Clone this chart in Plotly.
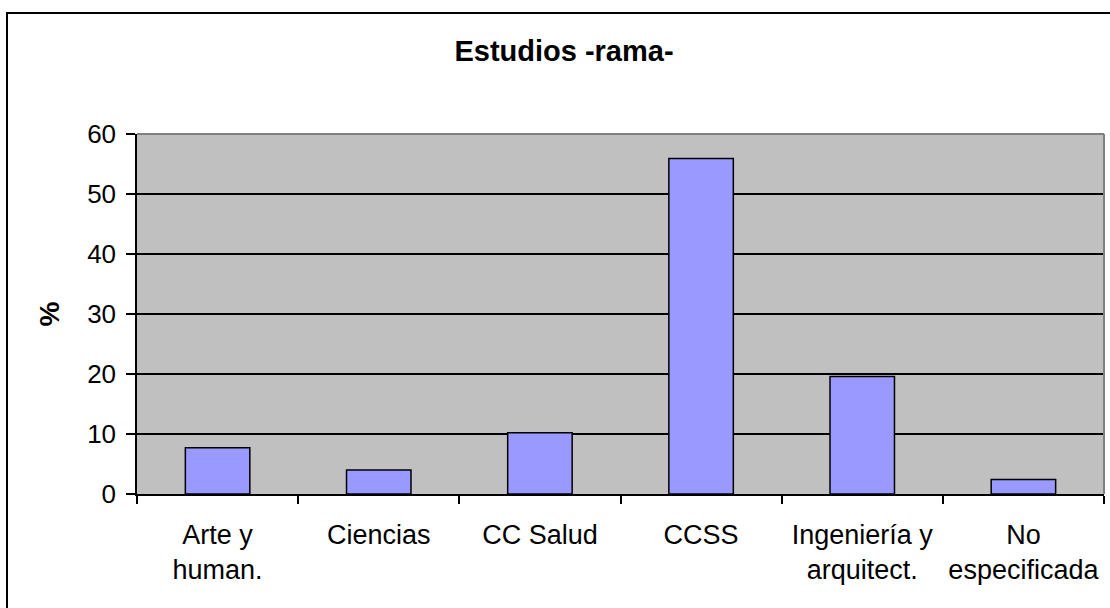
import plotly.graph_objects as go

categories = ["Arte y<br>human.", "Ciencias", "CC Salud", "CCSS", "Ingeniería y<br>arquitect.", "No<br>especificada"]
values = [7.7, 4.0, 10.2, 55.9, 19.6, 2.4]
y_ticks = [0, 10, 20, 30, 40, 50, 60]
title_text = "Estudios -rama-"
y_title = "%"

FONT = "Arial, 'Liberation Sans', sans-serif"

fig = go.Figure(
    go.Bar(
        x=categories,
        y=values,
        marker=dict(color="#9999FF", line=dict(color="black", width=1.5)),
        hoverinfo="x+y",
    )
)

W, H = 1110, 608
L, R, T, B = 137, 6, 134, 114
pw, ph = W - L - R, H - T - B

def px_x(p):
    return (p - L) / pw

def px_y(p):
    return 1 - (p - T) / ph

fig.update_layout(
    width=W,
    height=H,
    margin=dict(l=L, r=R, t=T, b=B, pad=0),
    paper_bgcolor="white",
    plot_bgcolor="#C0C0C0",
    bargap=0.6,
    showlegend=False,
    font=dict(family=FONT, size=27, color="black"),
    title=dict(
        text="<b>" + title_text + "</b>",
        font=dict(family=FONT, size=29, color="black"),
        x=564 / W,
        xref="container",
        xanchor="center",
        y=1 - 51 / H,
        yref="container",
        yanchor="middle",
    ),
    xaxis=dict(
        showline=True,
        linecolor="black",
        linewidth=1.5,
        ticks="outside",
        tickson="boundaries",
        ticklen=8,
        tickwidth=1.5,
        tickcolor="black",
        showgrid=False,
        tickfont=dict(family=FONT, size=27, color="black"),
        ticklabelstandoff=16,
        fixedrange=True,
    ),
    yaxis=dict(
        range=[0, 60],
        tickvals=y_ticks,
        showline=True,
        linecolor="black",
        linewidth=1.5,
        ticks="outside",
        ticklen=9,
        tickwidth=1.5,
        tickcolor="black",
        showgrid=True,
        gridcolor="black",
        gridwidth=1.5,
        zeroline=False,
        tickfont=dict(family=FONT, size=26, color="black"),
        ticklabelstandoff=5,
        title=dict(text="<b>" + y_title + "</b>", font=dict(family=FONT, size=28, color="black"), standoff=19),
        fixedrange=True,
    ),
    shapes=[
        # plot area top and right border (gray)
        dict(type="line", xref="paper", yref="paper", x0=0, x1=1, y0=1, y1=1,
             line=dict(color="#808080", width=2), layer="above"),
        dict(type="line", xref="paper", yref="paper", x0=1, x1=1, y0=0, y1=1,
             line=dict(color="#808080", width=2), layer="above"),
        # outer chart border
        dict(type="rect", xref="paper", yref="paper",
             x0=px_x(7), x1=px_x(W + 20), y0=px_y(H + 20), y1=px_y(13),
             line=dict(color="black", width=2), fillcolor="rgba(0,0,0,0)", layer="above"),
    ],
)

fig.write_html(
    "out.html",
    config={"displayModeBar": False},
    post_script="document.body.style.margin='0';document.body.style.overflow='hidden';",
)
